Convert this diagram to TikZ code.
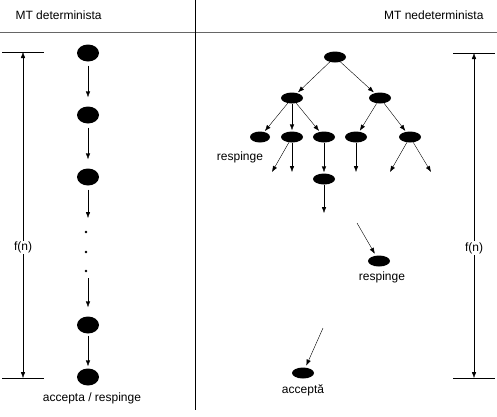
\documentclass[tikz,border=0pt]{standalone}
\usepackage{fontspec}
\setmainfont{Liberation Sans}
\usetikzlibrary{arrows.meta,shapes.geometric}

\tikzset{
  stare/.style={ellipse,fill=black,inner sep=0pt,minimum width=22pt,minimum height=17pt},
  nod/.style={ellipse,fill=black,inner sep=0pt,minimum width=22pt,minimum height=11pt},
  sag/.style={-{Latex[length=6pt,width=4.5pt]},thin},
  eticheta/.style={font=\fontsize{12}{14}\selectfont},
}

\begin{document}
\begin{tikzpicture}[x=1pt,y=-1pt]
\useasboundingbox (0,0) rectangle (497,416);

%% titles and dividers
\node[eticheta,anchor=west] (tst) at (12,15) {MT determinista};
\node[eticheta,anchor=east] (tdr) at (487,15) {MT nedeterminista};
\draw[gray!80!black] (0,32) -- (497,32);
\draw (195,0) -- (195,410);

%% deterministic machine
\node[stare] (d1) at (88,53) {};
\node[stare] (d2) at (88,115) {};
\node[stare] (d3) at (88,177) {};
\node[stare] (d4) at (88,325) {};
\node[stare] (d5) at (88,377) {};
\node[eticheta] (rez) at (92,398) {accepta / respinge};

\coordinate (d3x) at (88,218);
\coordinate (d4x) at (88,278);
\fill (86,232) circle (1.3pt);
\fill (86,252) circle (1.3pt);
\fill (86,271) circle (1.3pt);

\draw[sag,shorten <=4pt,shorten >=9pt] (d1) -- (d2);
\draw[sag,shorten <=4pt,shorten >=9pt] (d2) -- (d3);
\draw[sag,shorten <=4pt] (d3) -- (d3x);
\draw[sag,shorten >=9pt] (d4x) -- (d4);
\draw[sag,shorten <=2pt,shorten >=2pt] (d4) -- (d5);

%% f(n) left
\coordinate (fs1) at (23,52);
\coordinate (fs2) at (23,378);
\draw (2,52) -- (44,52);
\draw (2,378) -- (44,378);
\draw[sag,{Latex[length=6pt,width=4.5pt]}-{Latex[length=6pt,width=4.5pt]}] (fs2) -- node[eticheta,fill=white,pos=0.4,inner sep=1pt] {f(n)} (fs1);

%% nondeterministic machine
\node[nod] (r) at (335,57) {};
\node[nod] (a) at (292,98) {};
\node[nod] (b) at (380,98) {};
\node[nod,minimum width=20pt] (a1) at (260,137) {};
\node[nod] (a2) at (292,137) {};
\node[nod] (a3) at (324,137) {};
\node[nod] (b1) at (356,137) {};
\node[nod] (b2) at (410,137) {};
\node[nod] (a3a) at (324,179) {};
\node[eticheta] (resp1) at (240,157) {respinge};

\coordinate (a2s) at (272,172);
\coordinate (a2d) at (292,172);
\coordinate (b1d) at (356,172);
\coordinate (b2s) at (390,172);
\coordinate (b2d) at (431,172);
\coordinate (a3b) at (324,213);

\draw[sag,shorten >=1pt] (r) -- (a);
\draw[sag,shorten >=1pt] (r) -- (b);
\draw[sag,shorten >=1pt] (a) -- (a1);
\draw[sag,shorten >=1pt] (a) -- (a2);
\draw[sag,shorten >=1pt] (a) -- (a3);
\draw[sag,shorten >=1pt] (b) -- (b1);
\draw[sag,shorten >=1pt] (b) -- (b2);
\draw[sag] (a2) -- (a2s);
\draw[sag] (a2) -- (a2d);
\draw[sag] (b1) -- (b1d);
\draw[sag] (b2) -- (b2s);
\draw[sag] (b2) -- (b2d);
\draw[sag,shorten >=1pt] (a3) -- (a3a);
\draw[sag] (a3a) -- (a3b);

%% final configurations
\node[nod] (nr) at (379,261) {};
\node[eticheta] (resp2) at (382,277) {respinge};
\node[nod] (na) at (303,373) {};
\node[eticheta] (acc) at (303,390) {accept\u{a}};
\coordinate (nrs) at (357,223);
\coordinate (nas) at (323,328);
\draw[sag,shorten >=2pt] (nrs) -- (nr);
\draw[sag,shorten >=2pt] (nas) -- (na);

%% f(n) right
\coordinate (fd1) at (474,53);
\coordinate (fd2) at (474,378);
\draw (453,53) -- (495,53);
\draw (453,378) -- (495,378);
\draw[sag,{Latex[length=6pt,width=4.5pt]}-{Latex[length=6pt,width=4.5pt]}] (fd2) -- node[eticheta,fill=white,pos=0.4,inner sep=1pt] {f(n)} (fd1);
\end{tikzpicture}
\end{document}
